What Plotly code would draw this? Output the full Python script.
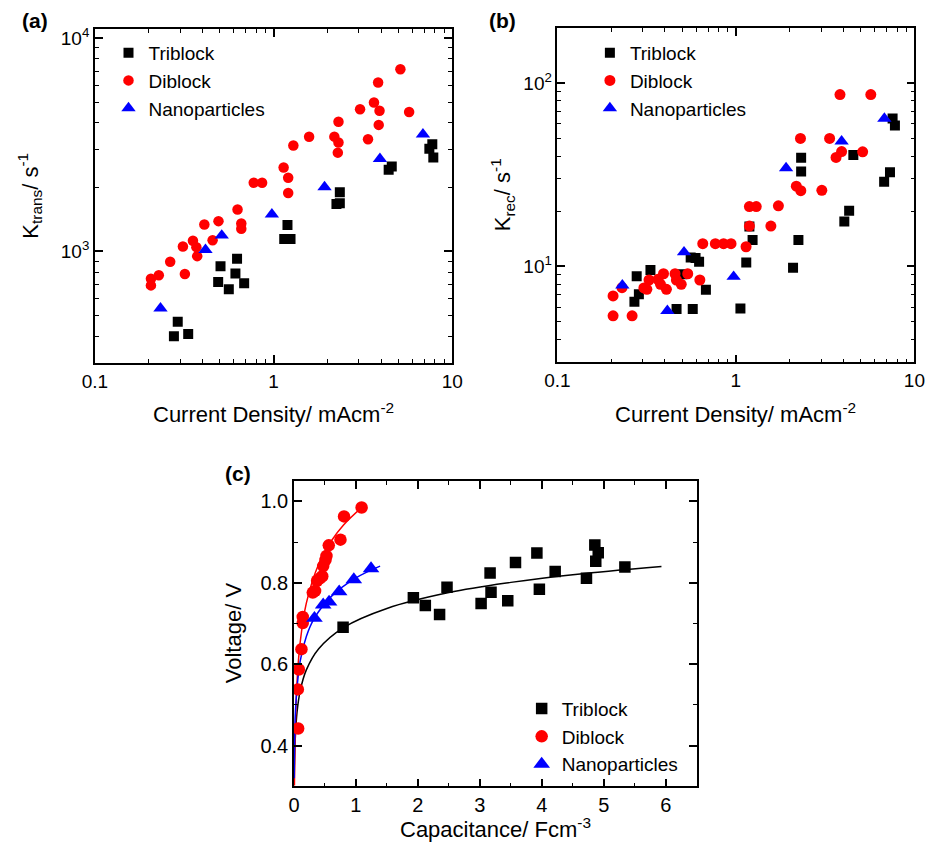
import plotly.graph_objects as go

FONT = "Liberation Sans, Arial, sans-serif"
W, H = 940, 847

# ---------------- Panel (a): K_trans vs current density ----------------
a_tri_x = [0.277, 0.291, 0.333, 0.490, 0.505, 0.562, 0.612, 0.625, 0.685, 1.148, 1.245, 1.197,
           2.25, 2.35, 2.35, 4.41, 4.59, 7.45, 7.74, 7.84]
a_tri_y = [400, 468, 410, 719, 851, 665, 787, 924, 710, 1142, 1142, 1331,
           1668, 1680, 1892, 2415, 2502, 3028, 3177, 2755]
a_di_x = [0.206, 0.206, 0.228, 0.264, 0.319, 0.311, 0.354, 0.370, 0.374, 0.410, 0.456, 0.492,
          0.629, 0.660, 0.660, 0.775, 0.863, 1.139, 1.208, 1.208, 1.291, 1.582, 2.19, 2.31,
          2.29, 2.31, 3.05, 3.38, 3.65, 3.85, 3.92, 3.88, 5.13, 5.74]
a_di_y = [693, 745, 773, 895, 783, 1055, 1121, 1047, 950, 1337, 1129, 1386,
          1571, 1351, 1276, 2099, 2099, 2472, 2213, 1879, 3134, 3444, 3451, 3237,
          2904, 4055, 4634, 3357, 4989, 6195, 4562, 3917, 7147, 4498]
a_np_x = [0.233, 0.416, 0.513, 0.979, 1.93, 3.94, 6.86]
a_np_y = [541, 1018, 1188, 1493, 2004, 2718, 3540]

# ---------------- Panel (b): K_rec vs current density ----------------
b_tri_x = [0.270, 0.278, 0.286, 0.332, 0.465, 0.500, 0.558, 0.594, 0.622, 0.573, 0.679, 1.06,
           1.143, 1.19, 1.24, 2.09, 2.24, 2.32, 2.32, 4.05, 4.31, 4.55, 6.77, 7.30, 7.55, 7.78]
b_tri_y = [6.41, 8.83, 7.05, 9.55, 5.85, 9.05, 11.2, 11.1, 10.6, 5.85, 7.45, 5.89,
           10.5, 16.5, 13.95, 9.84, 13.95, 32.9, 39.2, 17.6, 20.1, 40.5, 29.0, 32.6, 64.0, 58.7]
b_di_x = [0.205, 0.205, 0.230, 0.262, 0.305, 0.317, 0.326, 0.366, 0.378, 0.393, 0.408, 0.456,
          0.464, 0.494, 0.537, 0.628, 0.652, 0.767, 0.853, 0.939, 1.14, 1.19, 1.19, 1.30,
          1.57, 1.73, 2.18, 2.30, 2.31, 3.03, 3.35, 3.64, 3.83, 3.91, 5.13, 5.70]
b_di_y = [6.90, 5.38, 7.66, 5.38, 7.63, 7.5, 8.43, 8.5, 7.99, 9.12, 7.50, 9.12,
          8.43, 7.99, 9.12, 8.43, 13.3, 13.3, 13.3, 13.3, 12.8, 16.6, 21.2, 21.2,
          16.6, 21.4, 27.4, 49.9, 25.9, 26.0, 49.9, 39.3, 86.5, 42.3, 42.2, 86.5]
b_np_x = [0.231, 0.413, 0.512, 0.971, 1.91, 3.91, 6.79]
b_np_y = [7.89, 5.73, 11.96, 8.79, 34.4, 48.1, 64.0]

# ---------------- Panel (c): Voltage vs capacitance ----------------
c_tri_x = [0.793, 1.927, 2.12, 2.35, 2.47, 3.02, 3.165, 3.18, 3.45, 3.575, 3.92, 3.96,
           4.215, 4.72, 4.855, 4.91, 4.87, 5.34]
c_tri_y = [0.691, 0.763, 0.744, 0.722, 0.789, 0.749, 0.824, 0.777, 0.756, 0.850, 0.873, 0.784,
           0.828, 0.811, 0.893, 0.874, 0.853, 0.839]
c_di_x = [0.068, 0.063, 0.079, 0.121, 0.142, 0.142, 0.304, 0.341, 0.373, 0.420, 0.457, 0.472,
          0.509, 0.525, 0.562, 0.751, 0.808, 1.092]
c_di_y = [0.442, 0.538, 0.587, 0.637, 0.701, 0.716, 0.776, 0.780, 0.805, 0.811, 0.816, 0.841,
          0.856, 0.866, 0.892, 0.906, 0.963, 0.985]
c_np_x = [0.331, 0.472, 0.567, 0.730, 0.966, 1.244]
c_np_y = [0.713, 0.746, 0.753, 0.778, 0.808, 0.835]

# fitted curves
c_tri_fit_x = [0.005, 0.01, 0.02, 0.05, 0.1, 0.2, 0.4, 0.8, 1.5, 2.5, 3.5, 4.5, 5.93]
c_tri_fit_y = [0.310, 0.362, 0.413, 0.482, 0.534, 0.586, 0.638, 0.690, 0.737, 0.776, 0.801, 0.820, 0.840]
c_di_fit_x = [0.008, 0.02, 0.05, 0.1, 0.2, 0.4, 0.6, 0.8, 1.1]
c_di_fit_y = [0.302, 0.430, 0.557, 0.653, 0.750, 0.846, 0.902, 0.942, 0.986]
c_np_fit_x = [0.004, 0.01, 0.03, 0.1, 0.2, 0.33, 0.6, 1.0, 1.39]
c_np_fit_y = [0.320, 0.402, 0.500, 0.607, 0.668, 0.713, 0.766, 0.812, 0.841]

names = ["Triblock", "Diblock", "Nanoparticles"]
colors = ["#000000", "#ff0000", "#0000ff"]
symbols = ["square", "circle", "triangle-up"]

fig = go.Figure()

panels = [
    ("x", "y", "legend", [10, 10.5, 12.5], [(a_tri_x, a_tri_y), (a_di_x, a_di_y), (a_np_x, a_np_y)]),
    ("x2", "y2", "legend2", [10, 11, 12.5], [(b_tri_x, b_tri_y), (b_di_x, b_di_y), (b_np_x, b_np_y)]),
    ("x3", "y3", "legend3", [11.5, 12.5, 14.5], [(c_tri_x, c_tri_y), (c_di_x, c_di_y), (c_np_x, c_np_y)]),
]

# fit lines for panel (c) (drawn beneath markers)
for (fx, fy), col in zip([(c_tri_fit_x, c_tri_fit_y), (c_di_fit_x, c_di_fit_y), (c_np_fit_x, c_np_fit_y)], colors):
    fig.add_trace(go.Scatter(x=fx, y=fy, mode="lines", line=dict(color=col, width=1.5, shape="spline"),
                             xaxis="x3", yaxis="y3", showlegend=False, hoverinfo="skip"))

for xa, ya, lg, msizes, series in panels:
    for (sx, sy), name, col, sym, ms in zip(series, names, colors, symbols, msizes):
        fig.add_trace(go.Scatter(x=sx, y=sy, mode="markers", name=name,
                                 marker=dict(symbol=sym, color=col, size=ms, line=dict(width=0)),
                                 xaxis=xa, yaxis=ya, legend=lg))

def px_x(p):
    return p / W

def px_y(p):
    return 1 - p / H

base = dict(showline=True, linecolor="black", linewidth=1.5, mirror="allticks", ticks="inside",
            ticklen=8, tickwidth=1.5, tickcolor="black", showgrid=False, zeroline=False,
            tickfont=dict(size=19, color="black", family=FONT))
base_c = dict(base, tickfont=dict(size=20, color="black", family=FONT))
minor_base = dict(ticks="inside", ticklen=4, tickwidth=1.3, tickcolor="black", showgrid=False)

log_minor_x = [m * 10 ** e for e in (-1, 0) for m in range(2, 10)]

fig.update_layout(
    width=W, height=H, margin=dict(l=0, r=0, t=0, b=0),
    paper_bgcolor="white", plot_bgcolor="white",
    font=dict(family=FONT, color="black", size=19),
    xaxis=dict(base, type="log", range=[-1, 1], domain=[px_x(84), px_x(450.7)], anchor="y",
               tickvals=[0.1, 1, 10], ticktext=["0.1", "1", "10"],
               minor=dict(minor_base, tickvals=log_minor_x)),
    yaxis=dict(base, type="log", range=[2.477, 4.043], domain=[px_y(360.7), px_y(25)], anchor="x",
               tickvals=[1000, 10000], ticktext=["10<sup>3</sup>", "10<sup>4</sup>"],
               minor=dict(minor_base, tickvals=[300, 400, 500, 600, 700, 800, 900,
                                                2000, 3000, 4000, 5000, 6000, 7000, 8000, 9000])),
    xaxis2=dict(base, type="log", range=[-1, 1], domain=[px_x(558.7), px_x(925)], anchor="y2",
                tickvals=[0.1, 1, 10], ticktext=["0.1", "1", "10"],
                minor=dict(minor_base, tickvals=log_minor_x)),
    yaxis2=dict(base, type="log", range=[0.477, 2.301], domain=[px_y(360), px_y(24)], anchor="x2",
                tickvals=[10, 100], ticktext=["10<sup>1</sup>", "10<sup>2</sup>"],
                minor=dict(minor_base, tickvals=[3, 4, 5, 6, 7, 8, 9, 20, 30, 40, 50, 60, 70, 80, 90, 200])),
    xaxis3=dict(base_c, range=[0, 6.5], domain=[px_x(288.3), px_x(701.7)], anchor="y3",
                tickvals=[0, 1, 2, 3, 4, 5, 6],
                minor=dict(minor_base, dtick=0.5, tick0=0)),
    yaxis3=dict(base_c, range=[0.3, 1.05], domain=[px_y(786), px_y(479.3)], anchor="x3",
                tickvals=[0.4, 0.6, 0.8, 1.0], ticktext=["0.4", "0.6", "0.8", "1.0"],
                minor=dict(minor_base, dtick=0.1, tick0=0)),
)

leg = dict(bgcolor="rgba(0,0,0,0)", borderwidth=0, font=dict(size=19, family=FONT, color="black"),
           xanchor="left", yanchor="top", itemsizing="trace")
fig.update_layout(
    legend=dict(leg, x=px_x(98), y=px_y(30)),
    legend2=dict(leg, x=px_x(592), y=px_y(30)),
    legend3=dict(leg, x=px_x(522), y=px_y(689)),
)

ann = []
# panel labels
for txt, x, y in [("(a)", 23, 17), ("(b)", 502, 17), ("(c)", 231, 472)]:
    ann.append(dict(text="<b>%s</b>" % txt, x=px_x(x), y=px_y(y), xref="paper", yref="paper",
                    showarrow=False, xanchor="center", yanchor="middle",
                    font=dict(size=21, family=FONT, color="black")))
# axis titles
TF = dict(size=22, family=FONT, color="black")
ann += [
    dict(text="Current Density/ mAcm<sup>-2</sup>", x=px_x(267.4), y=px_y(411), xref="paper", yref="paper",
         showarrow=False, xanchor="center", yanchor="middle", font=TF),
    dict(text="Current Density/ mAcm<sup>-2</sup>", x=px_x(741.9), y=px_y(411), xref="paper", yref="paper",
         showarrow=False, xanchor="center", yanchor="middle", font=TF),
    dict(text="Capacitance/ Fcm<sup>-3</sup>", x=px_x(495), y=px_y(828), xref="paper", yref="paper",
         showarrow=False, xanchor="center", yanchor="middle", font=TF),
    dict(text="K<sub>trans</sub>/ s<sup>-1</sup>", x=px_x(17), y=px_y(193), xref="paper", yref="paper",
         showarrow=False, xanchor="center", yanchor="middle", textangle=-90, font=TF),
    dict(text="K<sub>rec</sub>/ s<sup>-1</sup>", x=px_x(502), y=px_y(192), xref="paper", yref="paper",
         showarrow=False, xanchor="center", yanchor="middle", textangle=-90, font=TF),
    dict(text="Voltage/ V", x=px_x(226), y=px_y(632), xref="paper", yref="paper",
         showarrow=False, xanchor="center", yanchor="middle", textangle=-90, font=TF),
]
fig.update_layout(annotations=ann)

fig.write_html("out.html")
